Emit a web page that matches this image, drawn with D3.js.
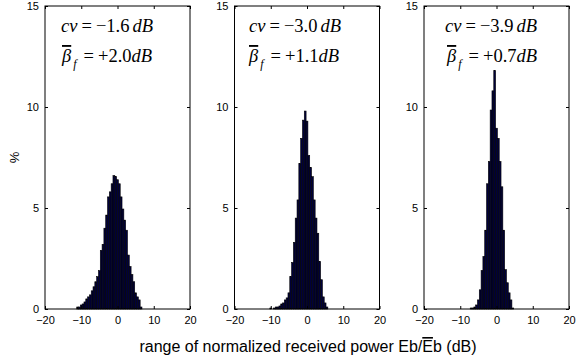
<!DOCTYPE html>
<html>
<head>
<meta charset="utf-8">
<script src="https://cdn.jsdelivr.net/npm/d3@7"></script>
<style>
  body { margin: 0; background: #fff; }
  svg { display: block; }
</style>
</head>
<body>
<svg id="chart" width="583" height="362"></svg>
<script>
// histogram bin centres (dB) and % per bin
const binWidth = 0.5;

const centres1 = [-11, -10.5, -10, -9.5, -9, -8.5, -8, -7.5, -7, -6.5, -6, -5.5, -5, -4.5, -4, -3.5, -3, -2.5, -2, -1.5, -1, -0.5, 0, 0.5, 1, 1.5, 2, 2.5, 3, 3.5, 4, 4.5, 5, 5.5, 6, 6.5];
const values1 = [0.1, 0.1, 0.2, 0.25, 0.35, 0.5, 0.6, 0.7, 0.9, 1.1, 1.35, 1.6, 1.9, 2.9, 3.2, 4.0, 4.65, 5.55, 5.8, 6.2, 6.6, 6.55, 6.4, 6.2, 5.55, 4.95, 4.4, 3.9, 2.67, 2.1, 1.7, 1.35, 0.8, 0.6, 0.45, 0.1];

const centres2 = [-10, -9.5, -9, -8.5, -8, -7.5, -7, -6.5, -6, -5.5, -5, -4.5, -4, -3.5, -3, -2.5, -2, -1.5, -1, -0.5, 0, 0.5, 1, 1.5, 2, 2.5, 3, 3.5, 4, 4.5, 5, 5.5];
const values2 = [0.05, 0, 0.05, 0.1, 0.1, 0.15, 0.25, 0.3, 0.45, 0.55, 0.8, 1.6, 2.3, 3.3, 4.5, 5.4, 7.2, 8.45, 9.35, 9.8, 9.3, 7.6, 7.0, 6.55, 5.4, 4.5, 3.75, 2.35, 1.45, 0.6, 0.3, 0.1];

const centres3 = [-7, -6.5, -6, -5.5, -5, -4.5, -4, -3.5, -3, -2.5, -2, -1.5, -1, -0.5, 0, 0.5, 1, 1.5, 2, 2.5, 3, 3.5, 4, 4.5];
const values3 = [0.05, 0.05, 0.1, 0.2, 0.45, 0.95, 1.9, 2.6, 3.9, 6.2, 7.3, 9.85, 10.8, 11.8, 8.95, 8.45, 7.3, 6.05, 3.9, 1.95, 1.3, 0.8, 0.45, 0.05];

const cvLabels = ["\u22121.6", "\u22123.0", "\u22123.9"];
const betaLabels = ["+2.0", "+1.1", "+0.7"];

const xTicks = [-20, -10, 0, 10, 20];
const yTicks = [0, 5, 10, 15];

const panels = [
  { centres: centres1, values: values1, textX: 16, betaX: 17 },
  { centres: centres2, values: values2, textX: 14.5, betaX: 14.5 },
  { centres: centres3, values: values3, textX: 21, betaX: 23 }
];

const svg = d3.select("#chart");
const plotLeft = 45, plotW = 145, gap = 44.5;
const plotTop = 6, plotBottom = 309;
const sans = "Liberation Sans, Arial, sans-serif";
const serif = "Liberation Serif, Times New Roman, serif";

const y = d3.scaleLinear().domain([0, 15]).range([plotBottom, plotTop]);

panels.forEach((p, i) => {
  const x0 = plotLeft + i * (plotW + gap);
  const x = d3.scaleLinear().domain([-20, 20]).range([x0, x0 + plotW]);
  const g = svg.append("g");

  // bars
  g.selectAll("rect.bar")
    .data(p.centres.map((c, k) => ({ c, v: p.values[k] })))
    .enter()
    .append("rect")
    .attr("class", "bar")
    .attr("x", d => x(d.c - binWidth / 2))
    .attr("width", d => x(d.c + binWidth / 2) - x(d.c - binWidth / 2))
    .attr("y", d => y(d.v))
    .attr("height", d => y(0) - y(d.v))
    .attr("fill", "#00003c")
    .attr("stroke", "#000")
    .attr("stroke-width", 0.6);

  // axes, MATLAB box style with inward ticks
  const tickFont = a => a.selectAll("text")
    .attr("font-family", sans)
    .attr("font-size", 11)
    .attr("fill", "#000");

  g.append("g")
    .attr("transform", `translate(0,${plotBottom})`)
    .call(d3.axisBottom(x).tickValues(xTicks).tickSize(-3).tickPadding(7)
      .tickFormat(d => d < 0 ? "\u2212" + Math.abs(d) : d))
    .call(tickFont)
    .call(a => a.select(".domain").remove());

  g.append("g")
    .attr("transform", `translate(0,${plotTop})`)
    .call(d3.axisTop(x).tickValues(xTicks).tickSize(-3).tickFormat(""))
    .call(a => a.select(".domain").remove());

  g.append("g")
    .attr("transform", `translate(${x0},0)`)
    .call(d3.axisLeft(y).tickValues(yTicks).tickSize(-3).tickPadding(6))
    .call(tickFont)
    .call(a => a.select(".domain").remove());

  g.append("g")
    .attr("transform", `translate(${x0 + plotW},0)`)
    .call(d3.axisRight(y).tickValues(yTicks).tickSize(-3).tickFormat(""))
    .call(a => a.select(".domain").remove());

  g.selectAll(".tick line").attr("stroke", "#000");

  g.append("rect")
    .attr("x", x0).attr("y", plotTop)
    .attr("width", plotW).attr("height", plotBottom - plotTop)
    .attr("fill", "none").attr("stroke", "#000").attr("stroke-width", 1);

  // annotations
  const t1 = g.append("text")
    .attr("x", x0 + p.textX).attr("y", 32)
    .attr("font-family", serif).attr("font-size", 18.5);
  t1.append("tspan").attr("font-style", "italic").text("cv");
  t1.append("tspan").attr("dx", 4).text("=");
  t1.append("tspan").attr("dx", 4).text(cvLabels[i]);
  t1.append("tspan").attr("dx", 3).attr("font-style", "italic").text("dB");

  const t2 = g.append("text")
    .attr("x", x0 + p.betaX).attr("y", 62)
    .attr("font-family", serif).attr("font-size", 18.5);
  t2.append("tspan").attr("font-style", "italic")
    .style("text-decoration", "overline").text("\u03B2");
  t2.append("tspan").attr("font-style", "italic").attr("font-size", 12)
    .attr("dx", 2).attr("dy", 6).text("f");
  t2.append("tspan").attr("dy", -6).attr("dx", 7).text("=");
  t2.append("tspan").attr("dx", 4).text(betaLabels[i]);
  t2.append("tspan").attr("font-style", "italic").text("dB");
});

// axis labels
svg.append("text")
  .attr("transform", `translate(19,${(plotTop + plotBottom) / 2}) rotate(-90)`)
  .attr("text-anchor", "middle")
  .attr("font-family", sans)
  .attr("font-size", 13)
  .text("%");

const xl = svg.append("text")
  .attr("x", 308).attr("y", 352)
  .attr("text-anchor", "middle")
  .attr("font-family", sans)
  .attr("font-size", 16);
xl.append("tspan").text("range of normalized received power Eb/");
xl.append("tspan").style("text-decoration", "overline").text("E");
xl.append("tspan").text("b (dB)");
</script>
</body>
</html>
